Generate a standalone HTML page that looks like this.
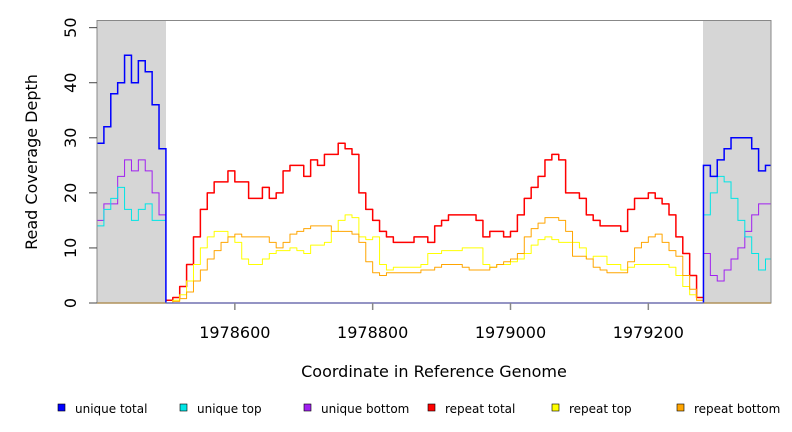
<!DOCTYPE html>
<html><head><meta charset="utf-8"><style>
body{margin:0;background:#fff;}
svg{display:block;font-family:"DejaVu Sans","Liberation Sans",sans-serif;}
</style></head><body>
<svg id="chart" width="792" height="432">
<rect x="97" y="20" width="69" height="283" fill="#d6d6d6"/>
<rect x="703" y="20" width="68" height="283" fill="#d6d6d6"/>
<g id="series"></g>
<rect x="97" y="20.5" width="674" height="282.5" fill="none" stroke="#888" stroke-width="1"/>
<g id="axes"></g>
<text transform="translate(37,162) rotate(-90)" text-anchor="middle" font-size="16" fill="#000">Read Coverage Depth</text>
<text x="434" y="377" text-anchor="middle" font-size="16" fill="#000">Coordinate in Reference Genome</text>
<g id="legend"></g>
</svg>
<script>
const xTicks=[1978600,1978800,1979000,1979200];
const yTicks=[0,10,20,30,40,50];
const seriesNames=["unique total","unique top","unique bottom","repeat total","repeat top","repeat bottom"];
const seriesColors=["#0000ff","#00e5e5","#a020f0","#ff0000","#ffff00","#ffa500"];
const leftStart=1978400, midStart=1978500, rightStart=1979280, step=10, xEnd=1979378;
const uniqueTotalLeft=[29,32,38,40,45,40,44,42,36,28];
const uniqueTopLeft=[14,17,19,21,17,15,17,18,15,15];
const uniqueBottomLeft=[15,18,18,23,26,24,26,24,20,16];
const uniqueTotalRight=[25,23,26,28,30,30,30,28,24,25];
const uniqueTopRight=[16,20,23,22,19,15,12,9,6,8];
const uniqueBottomRight=[9,5,4,6,8,10,13,16,18,18];
const repeatTotal=[0.5,1,3,7,12,17,20,22,22,24,22,22,19,19,21,19,20,24,25,25,23,26,25,27,27,29,28,27,20,17,15,13,12,11,11,11,12,12,11,14,15,16,16,16,16,15,12,13,13,12,13,16,19,21,23,26,27,26,20,20,19,16,15,14,14,14,13,17,19,19,20,19,18,16,12,9,5,1];
const repeatTop=[0,0.5,1.5,4,7,10,12,13,13,12,11,8,7,7,8,9,9.5,9.5,10,9.5,9,10.5,10.5,11,13,15,16,15.5,12,11.5,12,7,6,6.5,6.5,6.5,6.5,7,9,9,9.5,9.5,9.5,10,10,10,7,6.5,7,7,7.5,8,9,10.5,11.5,12,11.5,11,11,11,10,8,8.5,8.5,7,7,6,6.5,7,7,7,7,7,6.5,5,3,1.5,0.5];
const repeatBottom=[0,0.3,0.8,2,4,6,8,9.5,11,12,12.5,12,12,12,12,11,10,11,12.5,13,13.5,14,14,14,13,13,13,12.5,11,7.5,5.5,5,5.5,5.5,5.5,5.5,5.5,6,6,6.5,7,7,7,6.5,6,6,6,6.5,7,7.5,8,9,12,13.5,14.5,15.5,15.5,15,13,8.5,8.5,8,6.5,6,5.5,5.5,5.5,7.5,10,11,12,12.5,11,9.5,8.5,5,2.5,0.5];

const X0=97,X1=771,Y0=303,Y1=20.5,XMIN=1978400,XMAX=1979378,YMAX=51.3;
const sx=v=>X0+(v-XMIN)/(XMAX-XMIN)*(X1-X0);
const sy=v=>Y0-v/YMAX*(Y0-Y1);
const NS="http://www.w3.org/2000/svg";
function mk(tag,attrs,parent){const e=document.createElementNS(NS,tag);for(const k in attrs)e.setAttribute(k,attrs[k]);parent.appendChild(e);return e;}
function stepPath(vals,start,endX,dropStart,dropEnd){
  let d="";
  vals.forEach((v,i)=>{const x0=sx(start+i*step),x1=i<vals.length-1?sx(start+(i+1)*step):sx(endX);
    if(i===0){d+=dropStart?`M${x0},${sy(0)}L${x0},${sy(v)}`:`M${x0},${sy(v)}`;}else d+=`L${x0},${sy(v)}`;
    d+=`L${x1},${sy(v)}`;});
  if(dropEnd)d+=`L${sx(endX)},${sy(0)}`;
  return d;
}
const sg=document.getElementById("series");
const midEnd=midStart+repeatTotal.length*step;
let bl=mk("path",{d:`M${sx(XMIN)},${sy(0)}L${sx(midStart)},${sy(0)}M${sx(rightStart)},${sy(0)}L${sx(XMAX)},${sy(0)}`,stroke:seriesColors[5],"stroke-width":1.5,fill:"none"},sg);


const uniq=[[uniqueTotalLeft,uniqueTotalRight],[uniqueTopLeft,uniqueTopRight],[uniqueBottomLeft,uniqueBottomRight]];
const rep=[repeatTotal,repeatTop,repeatBottom];
rep.forEach((arr,i)=>{
  const j=3+i;
  const p=mk("path",{d:stepPath(arr,midStart,midEnd,false,false),stroke:seriesColors[j],"stroke-width":i===0?1.5:1,fill:"none","stroke-linejoin":"round"},sg);
  
  
});
for(let i=2;i>=0;i--){
  const pl=mk("path",{d:stepPath(uniq[i][0],leftStart,midStart,false,true),stroke:seriesColors[i],"stroke-width":i===0?1.5:1,fill:"none"},sg);
  
  
  const pr=mk("path",{d:stepPath(uniq[i][1],rightStart,XMAX,true,false),stroke:seriesColors[i],"stroke-width":i===0?1.5:1,fill:"none"},sg);
  
  
}
let ub=mk("path",{d:`M${sx(midStart)},${sy(0)}L${sx(rightStart)},${sy(0)}`,stroke:"#4444ff","stroke-width":1.5,fill:"none"},sg);



const ax=document.getElementById("axes");
yTicks.forEach(t=>{
  const y=sy(t);
  mk("line",{x1:89,y1:y,x2:97,y2:y,stroke:"#444"},ax);
  const tx=mk("text",{transform:`translate(76,${y}) rotate(-90)`,"text-anchor":"middle","font-size":16,fill:"#000"},ax);
  tx.textContent=t;
  
  
});
xTicks.forEach(t=>{
  const x=sx(t);
  mk("line",{x1:x,y1:303,x2:x,y2:310,stroke:"#888","stroke-width":1.5},ax);
  const tx=mk("text",{x:x,y:338,"text-anchor":"middle","font-size":16,fill:"#000"},ax);
  tx.textContent=t;
  
  
});
const lg=document.getElementById("legend");
const lx=[58,180,304,428,552,677];
seriesNames.forEach((n,i)=>{
  const g=mk("g",{},lg);
  
  
  mk("rect",{x:lx[i],y:404,width:7,height:7,fill:seriesColors[i],stroke:"#000","stroke-width":0.6},g);
  const t=mk("text",{x:lx[i]+17,y:413,"font-size":12,fill:"#000"},g);
  t.textContent=n;
});
</script>
</body></html>
